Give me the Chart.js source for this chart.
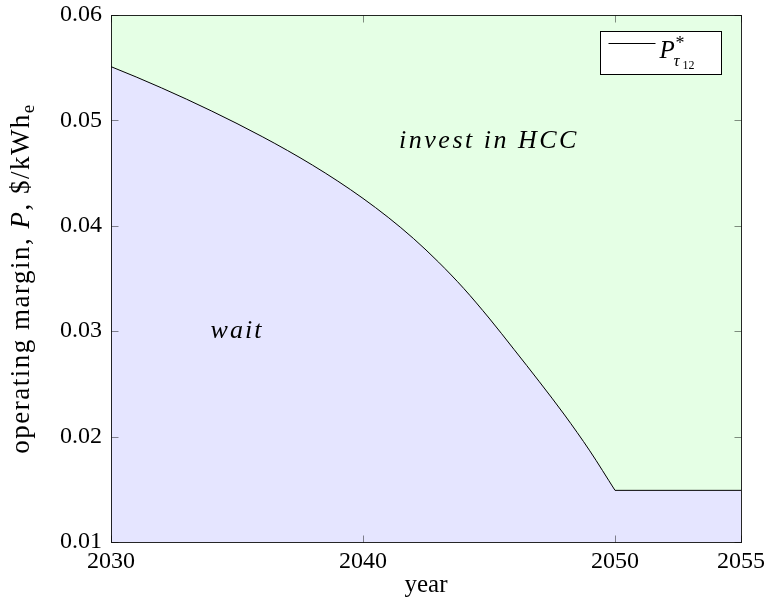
<!DOCTYPE html>
<html>
<head>
<meta charset="utf-8">
<script src="https://cdn.jsdelivr.net/npm/chart.js@4.4.0/dist/chart.umd.min.js"></script>
<style>
  html, body { margin: 0; padding: 0; background: #fff; }
  #wrap { width: 769px; height: 605px; }
</style>
</head>
<body>
<div id="wrap"><canvas id="marginChart" width="769" height="605"></canvas></div>
<script>
// threshold operating margin P*_tau12 by year ($/kWh_e)
const years = [2030, 2031, 2032, 2033, 2034, 2035, 2036, 2037, 2038, 2039, 2040,
               2041, 2042, 2043, 2044, 2045, 2046, 2047, 2048, 2049, 2050, 2055];
const thresholdMargin = [0.05510, 0.05412, 0.05309, 0.05201, 0.05088, 0.04970, 0.04846, 0.04715, 0.04575, 0.04424, 0.04260,
                         0.04080, 0.03880, 0.03655, 0.03405, 0.03125, 0.02825, 0.02520, 0.02205, 0.01865, 0.01490, 0.01490];
const xTicks = [2030, 2040, 2050, 2055];
const yTicks = [0.01, 0.02, 0.03, 0.04, 0.05, 0.06];
const floorYear = 2050; // curve hits the floor here and stays flat

const SERIF = '"Liberation Serif", "DejaVu Serif", serif';
const TICK_FONT = { family: SERIF, size: 24 };
const BLUE_FILL = 'rgb(229, 229, 255)';
const GREEN_FILL = 'rgb(229, 255, 229)';

const points = years.map((y, i) => ({ x: y, y: thresholdMargin[i] }));
const curvePts = points.filter(p => p.x <= floorYear);
const floorPts = points.filter(p => p.x >= floorYear);

// whole plot area starts green ("invest"), the datasets paint "wait" below the curve
const plotBackground = {
  id: 'plotBackground',
  beforeDatasetsDraw(chart) {
    const { left, right, top, bottom } = chart.chartArea;
    chart.ctx.save();
    chart.ctx.fillStyle = GREEN_FILL;
    chart.ctx.fillRect(left, top, right - left, bottom - top);
    chart.ctx.restore();
  }
};

// frame, inward ticks on all four sides, region labels, y title and legend
const decorations = {
  id: 'decorations',
  afterDraw(chart) {
    const ctx = chart.ctx;
    const { left, right, top, bottom } = chart.chartArea;
    const xs = chart.scales.x, ys = chart.scales.y;
    const L = Math.round(left) + 0.5, R = Math.round(right) + 0.5;
    const T = Math.round(top) + 0.5, B = Math.round(bottom) + 0.5;

    ctx.save();
    // tick marks
    ctx.strokeStyle = 'rgba(0, 0, 0, 0.45)';
    ctx.lineWidth = 1;
    ctx.beginPath();
    xTicks.forEach(v => {
      const px = Math.round(xs.getPixelForValue(v)) + 0.5;
      ctx.moveTo(px, B); ctx.lineTo(px, B - 7);
      ctx.moveTo(px, T); ctx.lineTo(px, T + 7);
    });
    yTicks.forEach(v => {
      const py = Math.round(ys.getPixelForValue(v)) + 0.5;
      ctx.moveTo(L, py); ctx.lineTo(L + 7, py);
      ctx.moveTo(R, py); ctx.lineTo(R - 7, py);
    });
    ctx.stroke();

    // frame
    ctx.strokeStyle = 'rgba(0, 0, 0, 0.85)';
    ctx.strokeRect(L, T, R - L, B - T);

    // region labels
    ctx.fillStyle = '#000';
    ctx.textAlign = 'center';
    ctx.textBaseline = 'middle';
    ctx.font = 'italic 26px ' + SERIF;
    ctx.letterSpacing = '2.5px';
    ctx.fillText('invest in HCC', xs.getPixelForValue(2045), ys.getPixelForValue(0.048));
    ctx.letterSpacing = '2px';
    ctx.fillText('wait', xs.getPixelForValue(2035), ys.getPixelForValue(0.030));

    // y axis title: operating margin, P, $/kWh_e
    ctx.letterSpacing = '1.5px';
    const parts = [
      { t: 'operating margin, ', f: '27px ' + SERIF, dy: 0 },
      { t: 'P', f: 'italic 27px ' + SERIF, dy: 0 },
      { t: ', $/kWh', f: '27px ' + SERIF, dy: 0 },
      { t: 'e', f: '19px ' + SERIF, dy: 5 }
    ];
    let total = 0;
    parts.forEach(p => { ctx.font = p.f; p.w = ctx.measureText(p.t).width; total += p.w; });
    ctx.translate(29, (top + bottom) / 2);
    ctx.rotate(-Math.PI / 2);
    ctx.textAlign = 'left';
    ctx.textBaseline = 'alphabetic';
    let cx = -total / 2;
    parts.forEach(p => { ctx.font = p.f; ctx.fillText(p.t, cx, p.dy); cx += p.w; });
    ctx.restore();

    // legend box
    ctx.save();
    const bx = Math.round(right) - 140.5, by = Math.round(top) + 16.5, bw = 121, bh = 43;
    ctx.fillStyle = '#fff';
    ctx.fillRect(bx, by, bw, bh);
    ctx.strokeStyle = '#000';
    ctx.lineWidth = 1;
    ctx.strokeRect(bx, by, bw, bh);
    ctx.beginPath();
    ctx.moveTo(bx + 8, by + 12); ctx.lineTo(bx + 55, by + 12);
    ctx.stroke();
    ctx.fillStyle = '#000';
    ctx.textAlign = 'left';
    ctx.textBaseline = 'alphabetic';
    ctx.font = 'italic 25px ' + SERIF;
    ctx.fillText('P', bx + 59, by + 26);
    ctx.font = '18px ' + SERIF;
    ctx.fillText('*', bx + 75, by + 17);
    ctx.font = 'italic 17px ' + SERIF;
    ctx.fillText('\u03C4', bx + 73, by + 34);
    ctx.font = '12px ' + SERIF;
    ctx.fillText('12', bx + 82, by + 37);
    ctx.restore();
  }
};

const lineStyle = {
  fill: 'start',
  backgroundColor: BLUE_FILL,
  borderColor: '#000',
  borderWidth: 1,
  pointRadius: 0
};

new Chart(document.getElementById('marginChart'), {
  type: 'line',
  data: {
    datasets: [
      { label: 'P* curve', data: curvePts, cubicInterpolationMode: 'monotone', ...lineStyle },
      { label: 'P* floor', data: floorPts, tension: 0, ...lineStyle }
    ]
  },
  options: {
    responsive: false,
    animation: false,
    devicePixelRatio: 1,
    layout: { padding: { left: 0, right: 28, top: 15, bottom: 0 } },
    plugins: {
      legend: { display: false },
      tooltip: { enabled: false }
    },
    scales: {
      x: {
        type: 'linear',
        min: 2030,
        max: 2055,
        afterBuildTicks: s => { s.ticks = xTicks.map(v => ({ value: v })); },
        afterFit: s => { s.height = 63; s.paddingLeft = 0; s.paddingRight = 0; },
        grid: { display: false, drawTicks: false },
        border: { display: false },
        ticks: { font: TICK_FONT, color: '#000', padding: 5, maxRotation: 0, callback: v => String(v) },
        title: { display: true, text: 'year', font: { family: SERIF, size: 25 }, color: '#000', padding: { top: 0, bottom: 5 } }
      },
      y: {
        min: 0.01,
        max: 0.06,
        afterBuildTicks: s => { s.ticks = yTicks.map(v => ({ value: v })); },
        afterFit: s => { s.width = 111; s.paddingTop = 0; s.paddingBottom = 0; },
        grid: { display: false, drawTicks: false },
        border: { display: false },
        ticks: { font: TICK_FONT, color: '#000', padding: 9, callback: v => v.toFixed(2) }
      }
    }
  },
  plugins: [plotBackground, decorations]
});
</script>
</body>
</html>
